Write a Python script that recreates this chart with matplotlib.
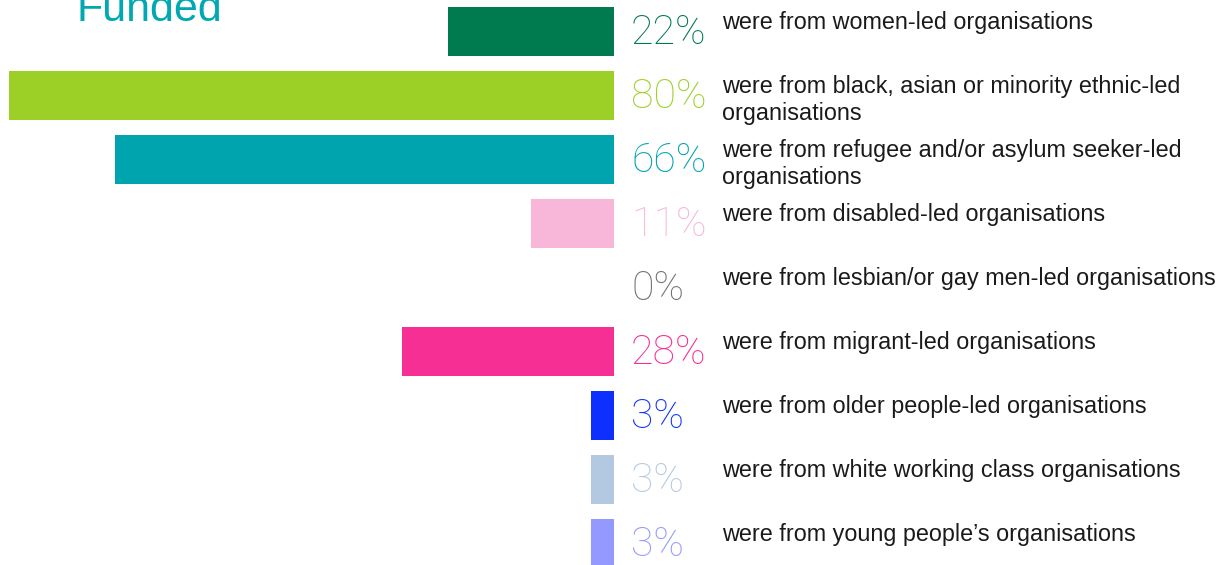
import matplotlib
matplotlib.use("Agg")
import matplotlib.pyplot as plt

title = "Funded"
values = [22, 80, 66, 11, 0, 28, 3, 3, 3]
pct_labels = ["22%", "80%", "66%", "11%", "0%", "28%", "3%", "3%", "3%"]
descriptions = [
    "were from women-led organisations",
    "were from black, asian or minority ethnic-led\norganisations",
    "were from refugee and/or asylum seeker-led\norganisations",
    "were from disabled-led organisations",
    "were from lesbian/or gay men-led organisations",
    "were from migrant-led organisations",
    "were from older people-led organisations",
    "were from white working class organisations",
    "were from young people\u2019s organisations",
]
bar_colors = ["#007A4F", "#9DD026", "#00A4AE", "#F8B6D8", "#FFFFFF",
              "#F52F93", "#0D30FF", "#B3C9E1", "#9399FF"]
text_colors = ["#007A4F", "#9DD026", "#00A4AE", "#F8B6D8", "#707070",
               "#F52F93", "#0D30FF", "#B3C9E1", "#9399FF"]

W, H = 1230, 565
fig = plt.figure(figsize=(W / 100, H / 100), dpi=100)
ax = fig.add_axes([9 / W, 0, 605 / W, 1])
n = len(values)
ys = list(range(n))
ax.barh(ys, values, height=49 / 64, color=bar_colors, edgecolor="none")
ax.set_xlim(80, 0)
ax.set_ylim((H - 31.5) / 64, -31.5 / 64)
ax.axis("off")

for i in ys:
    ax.annotate(pct_labels[i], xy=(0, i), xytext=(17, -13), textcoords="offset pixels",
                ha="left", va="baseline", fontsize=29.5, color=text_colors[i],
                family="Roboto", fontweight="light", annotation_clip=False)
    ax.annotate(descriptions[i], xy=(0, i), xytext=(108, 20), textcoords="offset pixels",
                ha="left", va="top", fontsize=16.8, color="#1a1a1a",
                family="Liberation Sans", linespacing=1.22, annotation_clip=False)

fig.text(76 / W, 1 - 21 / H, title, ha="left", va="baseline", fontsize=31,
         color="#00A9B2", family="Liberation Sans")

fig.savefig("out.png", dpi=100)
